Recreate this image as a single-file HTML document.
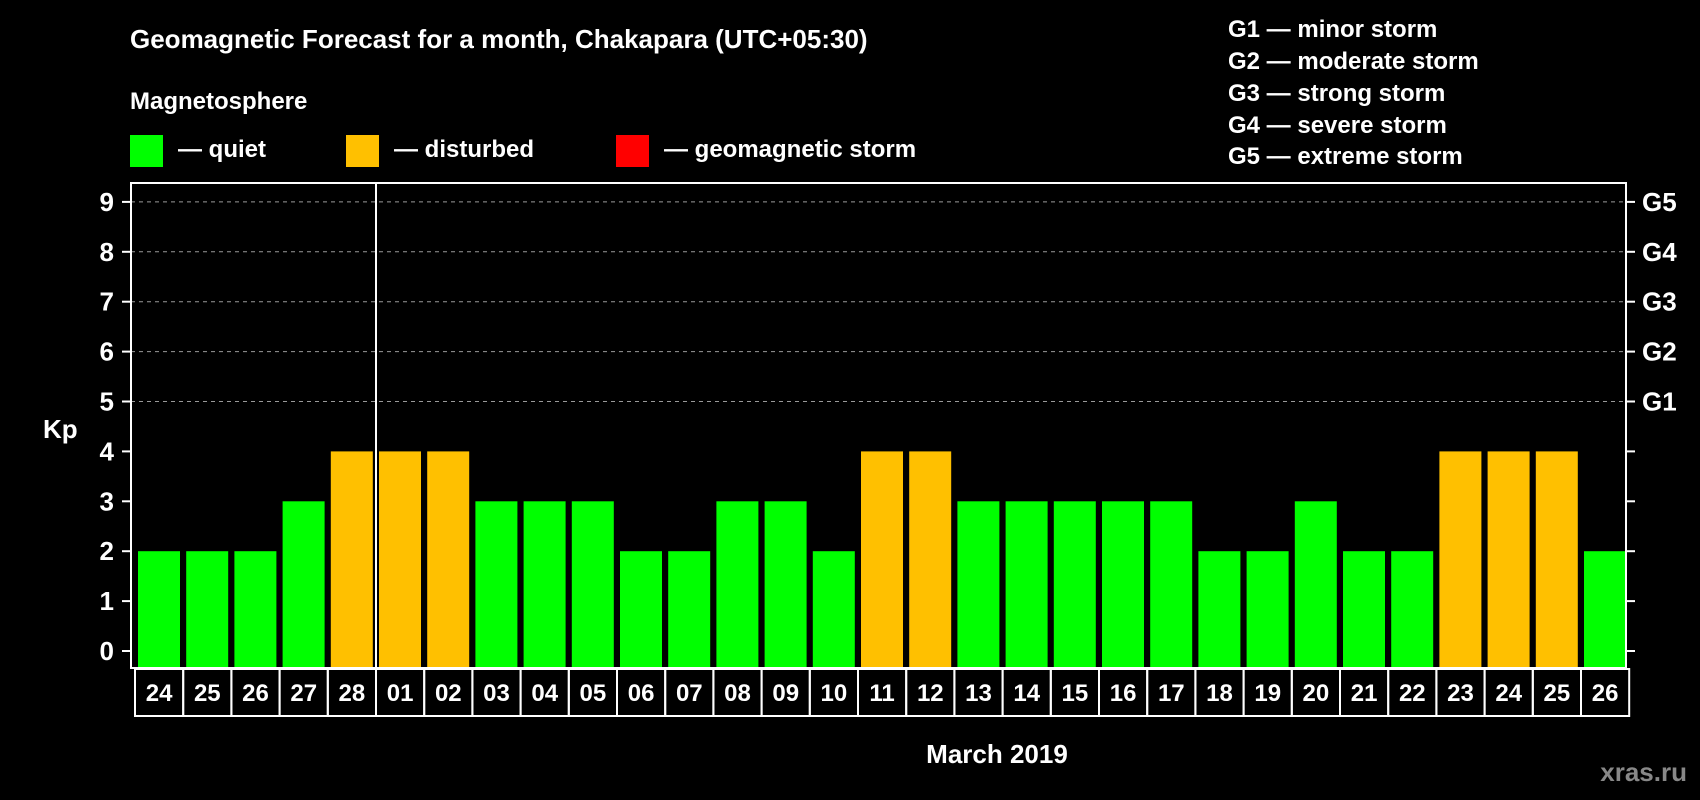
<!DOCTYPE html>
<html><head><meta charset="utf-8"><style>
html,body{margin:0;padding:0;background:#000;}
svg{display:block;font-family:"Liberation Sans",sans-serif;font-weight:bold;}
</style></head><body>
<svg id="chart" width="1700" height="800" viewBox="0 0 1700 800">
<rect x="0" y="0" width="1700" height="800" fill="#000"/>
<text x="130" y="48" fill="#fff" font-size="26">Geomagnetic Forecast for a month, Chakapara (UTC+05:30)</text>
<text x="130" y="109" fill="#fff" font-size="24">Magnetosphere</text>
<g><rect x="130" y="135" width="33" height="32" fill="#00ff00"/><text x="178" y="157" fill="#fff" font-size="24">— quiet</text></g>
<g><rect x="346" y="135" width="33" height="32" fill="#ffc000"/><text x="394" y="157" fill="#fff" font-size="24">— disturbed</text></g>
<g><rect x="616" y="135" width="33" height="32" fill="#ff0000"/><text x="664" y="157" fill="#fff" font-size="24">— geomagnetic storm</text></g>
<g fill="#fff" font-size="24">
<text x="1228" y="37">G1 — minor storm</text>
<text x="1228" y="69">G2 — moderate storm</text>
<text x="1228" y="101">G3 — strong storm</text>
<text x="1228" y="133">G4 — severe storm</text>
<text x="1228" y="164">G5 — extreme storm</text>
</g>
<text x="43" y="438" fill="#fff" font-size="26">Kp</text>
<text x="997" y="763" fill="#fff" font-size="26" text-anchor="middle">March 2019</text>
<text x="1687" y="781" fill="#888" font-size="26" text-anchor="end">xras.ru</text>
<g id="marks"></g>
</svg>
<script>
const days=["24","25","26","27","28","01","02","03","04","05","06","07","08","09","10","11","12","13","14","15","16","17","18","19","20","21","22","23","24","25","26"];
const kp=[2,2,2,3,4,4,4,3,3,3,2,2,3,3,2,4,4,3,3,3,3,3,2,2,3,2,2,4,4,4,2];
const yTicks=[0,1,2,3,4,5,6,7,8,9];
const gLabels=["","","","","","G1","G2","G3","G4","G5"];
const NS="http://www.w3.org/2000/svg";
const g=document.getElementById('marks');
const L=131,R=1626,T=183,B=668,x0=135,pitch=48.2;
function y(v){return 651-v*49.9;}
function xs(i){return x0+i*pitch;}
function mk(t,a){const e=document.createElementNS(NS,t);for(const k in a)e.setAttribute(k,a[k]);g.appendChild(e);return e;}
yTicks.forEach((v,i)=>{
  if(v>=5){const gl=mk('line',{x1:L,x2:R,y1:y(v),y2:y(v),stroke:'#999','stroke-width':1,'stroke-dasharray':'4,4'});
  
  }
  const t1=mk('line',{x1:L-9,x2:L,y1:y(v),y2:y(v),stroke:'#fff','stroke-width':2});
  
  
  const t2=mk('line',{x1:R,x2:R+9,y1:y(v),y2:y(v),stroke:'#fff','stroke-width':2});
  
  
  const lb=mk('text',{x:114,y:y(v)+9,fill:'#fff','font-size':26,'text-anchor':'end'});lb.textContent=v;
  
  
  if(gLabels[i]){const gt=mk('text',{x:1642,y:y(v)+9,fill:'#fff','font-size':26});gt.textContent=gLabels[i];
  
  }
});
kp.forEach((v,i)=>{
  const c=v>=5?'#ff0000':(v>=4?'#ffc000':'#00ff00');
  const b=mk('rect',{x:xs(i)+3,y:y(v),width:42,height:B-y(v),fill:c});
  
  
  const cell=mk('rect',{x:xs(i),y:B+1,width:pitch,height:47,fill:'none',stroke:'#fff','stroke-width':2});
  
  
  const t=mk('text',{x:xs(i)+pitch/2,y:B+33,fill:'#fff','font-size':24,'text-anchor':'middle'});t.textContent=days[i];
  
  
});
const frame=mk('rect',{x:L,y:T,width:R-L,height:B-T,fill:'none',stroke:'#fff','stroke-width':2});


const ml=mk('line',{x1:xs(5),x2:xs(5),y1:T,y2:B,stroke:'#fff','stroke-width':2});


</script>
</body></html>
